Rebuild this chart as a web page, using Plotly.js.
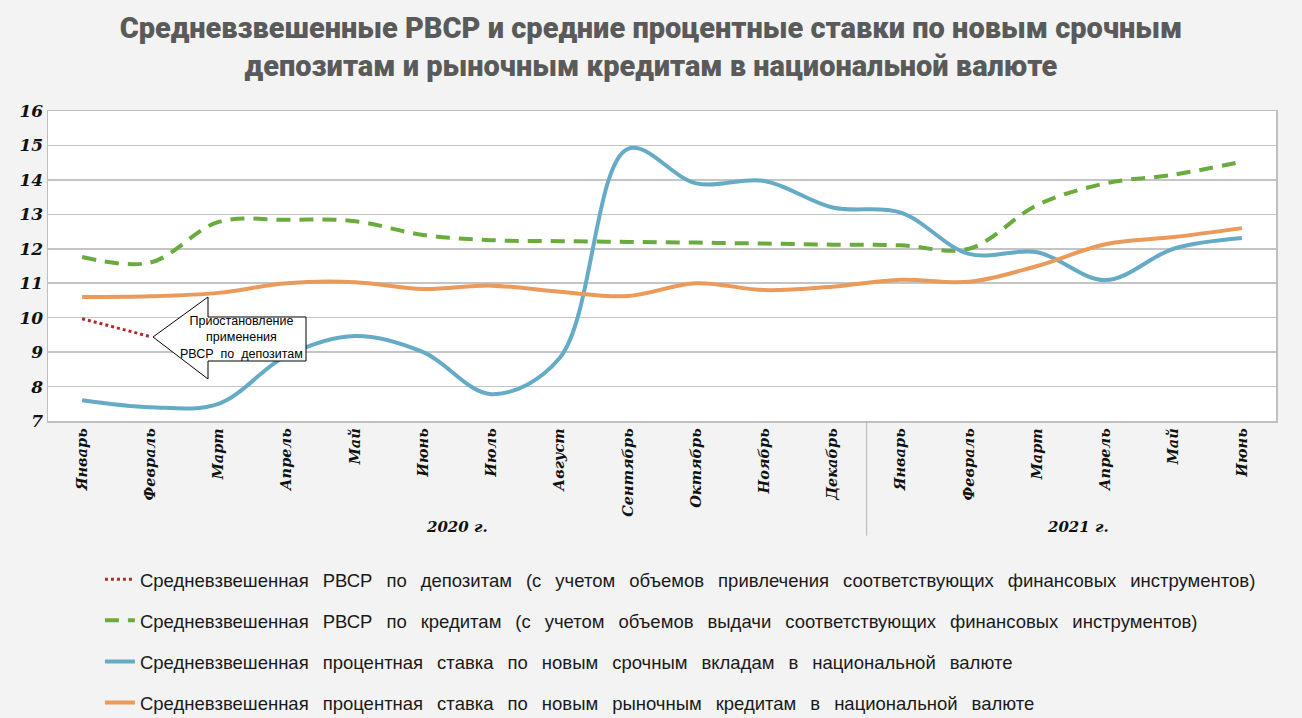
<!DOCTYPE html>
<html>
<head>
<meta charset="utf-8">
<script src="https://cdn.plot.ly/plotly-3.0.1.min.js"></script>
<style>
  html, body { margin: 0; padding: 0; background: #f3f3f3; }
  #chart { width: 1302px; height: 718px; }
</style>
</head>
<body>
<div id="chart"></div>
<script>
// ---- data ----
const months = ["Январь","Февраль","Март","Апрель","Май","Июнь","Июль","Август","Сентябрь","Октябрь","Ноябрь","Декабрь",
                "Январь","Февраль","Март","Апрель","Май","Июнь"];
const yearLabels = ["2020 г.", "2021 г."];
const depositRVSR = [9.97, 9.45, null, null, null, null, null, null, null, null, null, null, null, null, null, null, null, null];
const loanRVSR = [11.76, 11.6, 12.78, 12.84, 12.8, 12.4, 12.25, 12.22, 12.2, 12.18, 12.15, 12.12, 12.1, 12.0, 13.27, 13.9, 14.15, 14.53];
const depositRate = [7.6, 7.4, 7.5, 8.9, 9.47, 9.0, 7.78, 8.83, 14.9, 13.9, 13.97, 13.2, 13.05, 11.85, 11.9, 11.09, 12.0, 12.31];
const loanRate = [10.6, 10.62, 10.72, 11.0, 11.03, 10.83, 10.93, 10.75, 10.63, 11.0, 10.8, 10.9, 11.1, 11.04, 11.5, 12.13, 12.34, 12.6];
const gap = "\u00a0\u00a0\u2009";
const seriesWords = [
  ["Средневзвешенная","РВСР","по","депозитам","(с","учетом","объемов","привлечения","соответствующих","финансовых","инструментов)"],
  ["Средневзвешенная","РВСР","по","кредитам","(с","учетом","объемов","выдачи","соответствующих","финансовых","инструментов)"],
  ["Средневзвешенная","процентная","ставка","по","новым","срочным","вкладам","в","национальной","валюте"],
  ["Средневзвешенная","процентная","ставка","по","новым","рыночным","кредитам","в","национальной","валюте"]
];
const seriesNames = seriesWords.map(w => w.join(gap));
const titleText = "Средневзвешенные РВСР и средние процентные ставки по новым срочным<br>депозитам и рыночным кредитам в национальной валюте";
const noteText = "Приостановление<br>применения<br>РВСР\u00a0\u00a0по\u00a0\u00a0депозитам";

const xs = months.map((m, i) => i);
const serifFont = {family: "DejaVu Serif", size: 14.5, color: "#111", style: "italic", weight: 700};

const traces = [
  {x: xs, y: depositRVSR, name: seriesNames[0], mode: "lines", legendgroup: "a",
   line: {color: "#b22a2a", width: 3, dash: "dot", shape: "spline", smoothing: 1}},
  {x: xs, y: loanRVSR, name: seriesNames[1], mode: "lines", legendgroup: "b",
   line: {color: "#6aab3e", width: 4, dash: "14px,9px", shape: "spline", smoothing: 1}},
  {x: xs, y: depositRate, name: seriesNames[2], mode: "lines", legendgroup: "c",
   line: {color: "#65abc6", width: 4, shape: "spline", smoothing: 1}},
  {x: xs, y: loanRate, name: seriesNames[3], mode: "lines", legendgroup: "d",
   line: {color: "#ea9a5a", width: 4, shape: "spline", smoothing: 1}}
];

const layout = {
  width: 1302, height: 718,
  paper_bgcolor: "#f3f3f3", plot_bgcolor: "#ffffff",
  margin: {l: 48, r: 26, t: 111, b: 297},
  title: {text: titleText, x: 0.5, xanchor: "center", y: 0.947, yanchor: "top",
          font: {family: "Roboto", size: 29, color: "#5a5a5a", weight: 900}},
  showlegend: true,
  legend: {x: 0.0423, xanchor: "left", yref: "container", y: 0.219, yanchor: "top", traceorder: "grouped",
           tracegroupgap: 14, bgcolor: "rgba(0,0,0,0)",
           font: {family: "Liberation Sans", size: 18.5, color: "#1a1a1a"}},
  xaxis: {
    range: [-0.5, 17.5], tickmode: "array", tickvals: xs, ticktext: months,
    tickangle: -90, tickfont: serifFont, showgrid: false, zeroline: false,
    showline: true, linecolor: "#bfbfbf", linewidth: 1.5, mirror: true, ticks: "", ticklen: 0
  },
  yaxis: {
    range: [7, 16], dtick: 1, tickfont: Object.assign({}, serifFont, {size: 17}),
    showgrid: true, gridcolor: "#c4c4c4", gridwidth: 1.5, zeroline: false,
    showline: true, linecolor: "#bfbfbf", linewidth: 1.5, mirror: true, ticks: "", ticklen: 0
  },
  shapes: [
    {type: "line", xref: "x", yref: "paper", x0: 11.5, x1: 11.5, y0: 0, y1: -0.37,
     line: {color: "#b5b5b5", width: 1}},
    {type: "path", xref: "paper", yref: "paper",
     path: "M 0.0855 0.271 L 0.1303 0.40 L 0.1303 0.3355 L 0.2101 0.3355 L 0.2101 0.1935 L 0.1303 0.1935 L 0.1303 0.1355 Z",
     fillcolor: "#ffffff", line: {color: "#000000", width: 1}}
  ],
  annotations: [
    {text: yearLabels[0], xref: "x", yref: "paper", x: 5.5, y: -0.342, yanchor: "middle", showarrow: false,
     font: Object.assign({}, serifFont, {size: 15})},
    {text: yearLabels[1], xref: "x", yref: "paper", x: 14.6, y: -0.342, yanchor: "middle", showarrow: false,
     font: Object.assign({}, serifFont, {size: 15})},
    {text: noteText, xref: "paper", yref: "paper", x: 0.1575, y: 0.268, xanchor: "center", yanchor: "middle",
     showarrow: false, align: "center", font: {family: "Liberation Sans", size: 12.5, color: "#000"}}
  ],
  hovermode: false
};

Plotly.newPlot("chart", traces, layout, {displayModeBar: false, staticPlot: true});
</script>
</body>
</html>
